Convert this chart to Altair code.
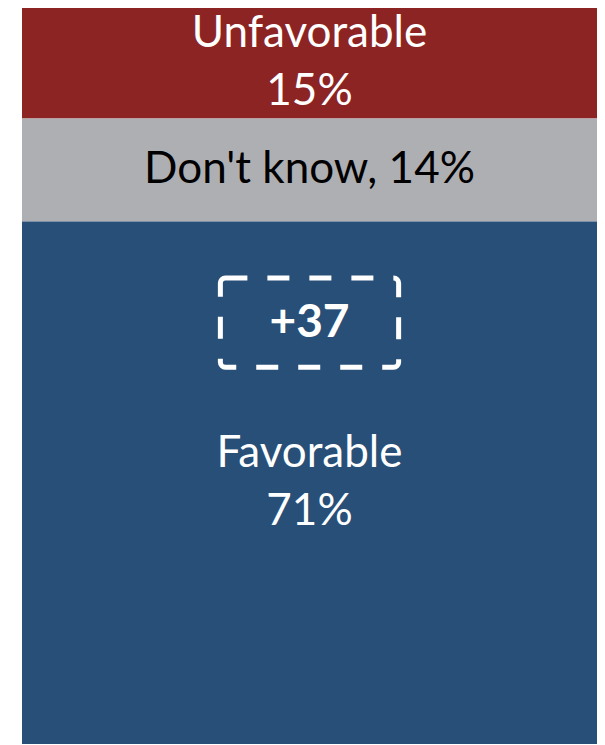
import altair as alt
import pandas as pd

categories = ["Unfavorable", "Don't know", "Favorable"]
values = [15, 14, 71]
line1 = ["Unfavorable", "Don't know, 14%", "Favorable"]
line2 = ["15%", "", "71%"]
colors = ["#8D2424", "#AEAFB3", "#284F78"]
text_colors = ["#FFFFFF", "#000000", "#FFFFFF"]

net_label = "+37"
# annotation box in data units (x: share of bar width, y: percent)
box_x = [0.345, 0.655]
box_y = [36.7, 48.8]

starts, ends = [], []
acc = 0
for v in values:
    starts.append(acc)
    acc += v
    ends.append(acc)

df = pd.DataFrame({
    "category": categories,
    "value": values,
    "start": starts,
    "end": ends,
    "mid": [(s + e) / 2 for s, e in zip(starts, ends)],
    "line1": line1,
    "line2": line2,
    "two": [1 if l else 0 for l in line2],
    "tcolor": text_colors,
    "x0": [0] * 3,
    "x1": [1] * 3,
    "xm": [0.5] * 3,
})

box_df = pd.DataFrame({
    "x0": [box_x[0]], "x1": [box_x[1]],
    "y0": [box_y[0]], "y1": [box_y[1]],
    "xm": [(box_x[0] + box_x[1]) / 2],
    "ym": [(box_y[0] + box_y[1]) / 2],
    "label": [net_label],
})

xs = alt.Scale(domain=[0, 1], nice=False, zero=False)
ys = alt.Scale(domain=[0, 100], nice=False, reverse=True)

base = alt.Chart(df)

bars = base.mark_bar().encode(
    x=alt.X("x0:Q", scale=xs, axis=None),
    x2="x1:Q",
    y=alt.Y("start:Q", scale=ys, axis=None),
    y2="end:Q",
    color=alt.Color("category:N", scale=alt.Scale(domain=categories, range=colors), legend=None),
)

tstyle = dict(font="Lato", fontSize=44, align="center", baseline="middle")
tenc = dict(
    x=alt.X("xm:Q", scale=xs),
    y=alt.Y("mid:Q", scale=ys),
    color=alt.Color("tcolor:N", scale=None),
)

single = base.transform_filter("datum.two == 0").mark_text(**tstyle).encode(
    text="line1:N", **tenc
)
top_line = base.transform_filter("datum.two == 1").mark_text(dy=-29, **tstyle).encode(
    text="line1:N", **tenc
)
bottom_line = base.transform_filter("datum.two == 1").mark_text(dy=29, **tstyle).encode(
    text="line2:N", **tenc
)

box = alt.Chart(box_df).mark_rect(
    filled=False, stroke="white", strokeWidth=5, strokeDash=[22, 20], cornerRadius=5,
).encode(
    x=alt.X("x0:Q", scale=xs),
    x2="x1:Q",
    y=alt.Y("y0:Q", scale=ys),
    y2="y1:Q",
)

net = alt.Chart(box_df).mark_text(
    font="Lato", fontSize=46, fontWeight="bold", color="white",
    align="center", baseline="middle",
).encode(
    x=alt.X("xm:Q", scale=xs),
    y=alt.Y("ym:Q", scale=ys),
    text="label:N",
)

chart = alt.layer(bars, single, top_line, bottom_line, box, net).properties(
    width=575, height=736,
    autosize=alt.AutoSizeParams(type="none"),
    padding={"left": 14, "top": 0, "right": 0, "bottom": 0},
).configure_view(strokeWidth=0)

chart.save("out.html", embed_options={"renderer": "svg", "actions": False})
